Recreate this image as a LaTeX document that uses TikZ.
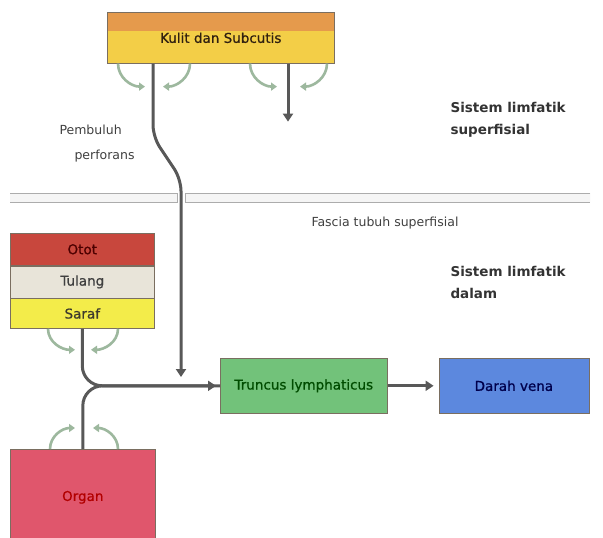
\documentclass[tikz,border=0pt]{standalone}
\usepackage{fontspec}
\setmainfont{DejaVu Sans}
\newfontfamily\kotakfont[FakeBold=0.8]{DejaVu Sans}
\usetikzlibrary{positioning,arrows.meta}

\definecolor{garis}{HTML}{585858}
\definecolor{putaran}{HTML}{9DB89E}
\definecolor{tepi}{HTML}{7A6E60}
\definecolor{kulitatas}{HTML}{E59A4C}
\definecolor{kulitbawah}{HTML}{F3CE47}
\definecolor{otot}{HTML}{C8473D}
\definecolor{tulang}{HTML}{E8E4D9}
\definecolor{saraf}{HTML}{F3EC4A}
\definecolor{organ}{HTML}{E0566C}
\definecolor{truncus}{HTML}{72C27A}
\definecolor{darah}{HTML}{5C88DE}

\begin{document}
\begin{tikzpicture}[>={Triangle[length=8pt,width=10pt]},x=1pt,y=1pt,
	kotak/.style={draw=tepi,line width=0.6pt,inner sep=0pt,font=\kotakfont\fontsize{13.5}{16}\selectfont},
	aliran/.style={draw=garis,line width=3pt},
	putar/.style={draw=putaran,line width=2.6pt,-{Triangle[length=6pt,width=8pt]}},
	teks/.style={font=\fontsize{12.5}{25}\selectfont,text=black!75},
	judul/.style={font=\bfseries\fontsize{13.5}{22}\selectfont,text=black!80,align=left,anchor=north west}]
	\fill[white] (0,0) rectangle (603,-538);
	\useasboundingbox (0,0) rectangle (603,-538);
	% lapisan fascia
	\fill[gray!8] (10,-193) rectangle (177,-202) (185,-193) rectangle (590,-202);
	\draw[gray!65,line width=0.8pt] (10,-193) -- (177,-193) -- (177,-202) -- (10,-202);
	\draw[gray!65,line width=0.8pt] (590,-193) -- (185,-193) -- (185,-202) -- (590,-202);
	% kotak-kotak
	\node[kotak,anchor=north west,minimum width=227pt,minimum height=51pt,fill=kulitbawah,
		path picture={\fill[kulitatas] (path picture bounding box.north west) rectangle ([yshift=-19pt]path picture bounding box.north east);},
		text=black!75!brown] (kulit) at (107,-12) {Kulit dan Subcutis};
	\node[kotak,anchor=north west,minimum width=144pt,minimum height=32pt,fill=otot,text=black!70!red] (otot) at (10,-233) {Otot};
	\node[kotak,below=0pt of otot,minimum width=144pt,minimum height=32pt,fill=tulang,text=black!75] (tulang) {Tulang};
	\node[kotak,below=0pt of tulang,minimum width=144pt,minimum height=30pt,fill=saraf,text=black!75!olive] (saraf) {Saraf};
	\node[kotak,anchor=north west,minimum width=145pt,minimum height=96pt,fill=organ,text=red!70!black] (organ) at (10,-449) {Organ};
	\node[kotak,anchor=north west,minimum width=167pt,minimum height=55pt,fill=truncus,text=black!70!green] (truncus) at (220,-358) {Truncus lymphaticus};
	\node[kotak,right=51pt of truncus,minimum width=150pt,minimum height=55pt,fill=darah,text=black!70!blue] (darah) {Darah vena};
	% label
	\node[teks,align=left,anchor=north west] (perforans) at (56,-121) {Pembuluh\\\hspace*{15pt}perforans};
	\node[teks,font=\fontsize{12.5}{15}\selectfont] (fascia) at (385,-223) {Fascia tubuh superfisial};
	\node[judul] (superfisial) at (447,-99) {Sistem limfatik\\superfisial};
	\node[judul] (dalam) at (447,-263) {Sistem limfatik\\dalam};
	% aliran limfe
	\coordinate (kiri) at ([xshift=46pt]kulit.south west);
	\coordinate (kanan) at ([xshift=181pt]kulit.south west);
	\coordinate (miring) at (153,-137);
	\coordinate (belok) at (181,-179);
	\coordinate (ujung) at (181,-377);
	\draw[aliran,->,rounded corners=12pt] (kiri) -- (miring) -- (belok) -- (ujung);
	\draw[aliran,->] (kanan) -- ++(0,-58);
	\draw[aliran,rounded corners=20pt,->,shorten >=4pt] (saraf.south) |- (truncus.west);
	\draw[aliran,rounded corners=20pt] (organ.north) |- (truncus.west);
	\draw[aliran,->,shorten >=5pt] (truncus) -- (darah);
	% putaran kecil di bawah kotak
	\draw[putar] ([xshift=11pt]kulit.south west) to[out=-90,in=180] ++(27,-23);
	\draw[putar] ([xshift=83pt]kulit.south west) to[out=-90,in=0] ++(-27,-23);
	\draw[putar] ([xshift=143pt]kulit.south west) to[out=-90,in=180] ++(27,-23);
	\draw[putar] ([xshift=220pt]kulit.south west) to[out=-90,in=0] ++(-27,-23);
	\draw[putar] ([xshift=38pt]saraf.south west) to[out=-90,in=180] ++(27,-21);
	\draw[putar] ([xshift=108pt]saraf.south west) to[out=-90,in=0] ++(-27,-21);
	\draw[putar] ([xshift=40pt]organ.north west) to[out=90,in=180] ++(25,21);
	\draw[putar] ([xshift=108pt]organ.north west) to[out=90,in=0] ++(-25,21);
\end{tikzpicture}
\end{document}
